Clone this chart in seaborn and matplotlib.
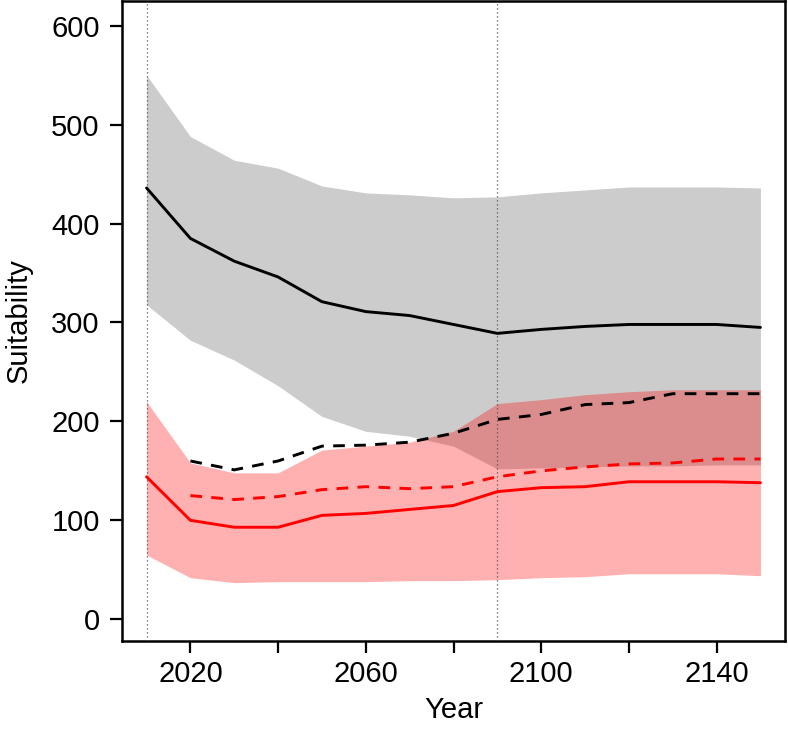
import numpy as np
import pandas as pd
import matplotlib
matplotlib.use("Agg")
import matplotlib.pyplot as plt
import seaborn as sns

years = [2010, 2020, 2030, 2040, 2050, 2060, 2070, 2080, 2090, 2100, 2110, 2120, 2130, 2140, 2150]

black_mean = [436, 385, 362, 346, 321, 311, 307, 298, 289, 293, 296, 298, 298, 298, 295]
black_upper = [550, 488, 464, 456, 438, 431, 429, 426, 427, 431, 434, 437, 437, 437, 436]
black_lower = [318, 282, 262, 236, 205, 190, 185, 175, 152, 153, 154, 155, 155, 156, 156]

dash_years = years[1:]
black_dashed = [160, 151, 160, 175, 176, 179, 188, 202, 207, 217, 219, 228, 228, 228]

red_mean = [144, 100, 93, 93, 105, 107, 111, 115, 129, 133, 134, 139, 139, 139, 138]
red_upper = [220, 158, 148, 148, 171, 175, 179, 190, 218, 222, 227, 230, 232, 232, 232]
red_lower = [65, 42, 37, 38, 38, 38, 39, 39, 40, 42, 43, 46, 46, 46, 44]
red_dashed = [125, 121, 124, 131, 134, 132, 134, 144, 150, 154, 157, 158, 162, 162]

vlines = [2010, 2090]
xticks = [2020, 2040, 2060, 2080, 2100, 2120, 2140]
xticklabels = ["2020", "", "2060", "", "2100", "", "2140"]
yticks = [0, 100, 200, 300, 400, 500, 600]

sns.set_theme(style="white")
plt.rcParams["font.family"] = ["Liberation Sans", "DejaVu Sans"]

df = pd.DataFrame({"Year": years, "black": black_mean, "red": red_mean})
dfd = pd.DataFrame({"Year": dash_years, "black": black_dashed, "red": red_dashed})

fig = plt.figure(figsize=(7.88, 7.33), dpi=100)
ax = fig.add_axes([122 / 788, 1 - 641 / 733, (785 - 122) / 788, 640 / 733])

ax.fill_between(years, black_lower, black_upper, color="#cccccc", linewidth=0, zorder=1)
ax.fill_between(years, red_lower, red_upper, color="#ff0000", alpha=0.31, linewidth=0, zorder=2)

for v in vlines:
    ax.axvline(v, color="#555555", linestyle=(0, (1, 2.2)), linewidth=0.9, zorder=3)

lw = 2.1
dash = (0, (4, 3.2))
sns.lineplot(data=df, x="Year", y="black", color="black", linewidth=lw, ax=ax, zorder=4)
sns.lineplot(data=df, x="Year", y="red", color="#ff0000", linewidth=lw, ax=ax, zorder=4)
sns.lineplot(data=dfd, x="Year", y="black", color="black", linewidth=lw, linestyle=dash, ax=ax, zorder=4)
sns.lineplot(data=dfd, x="Year", y="red", color="#ff0000", linewidth=lw, linestyle=dash, ax=ax, zorder=4)

ax.set_xlim(2004.4, 2155.6)
ax.set_ylim(-22, 625)
ax.set_xticks(xticks)
ax.set_xticklabels(xticklabels)
ax.set_yticks(yticks)
ax.tick_params(axis="both", direction="out", length=8.6, width=1.6, labelsize=21,
               colors="black", bottom=True, left=True)
ax.tick_params(axis="x", pad=5)
ax.tick_params(axis="y", pad=7.5)
ax.set_xlabel("Year", fontsize=21, labelpad=5.5, color="black")
ax.set_ylabel("Suitability", fontsize=21, labelpad=13, color="black")
for s in ax.spines.values():
    s.set_color("black")
    s.set_linewidth(1.8)

fig.savefig("out.png", dpi=100)
